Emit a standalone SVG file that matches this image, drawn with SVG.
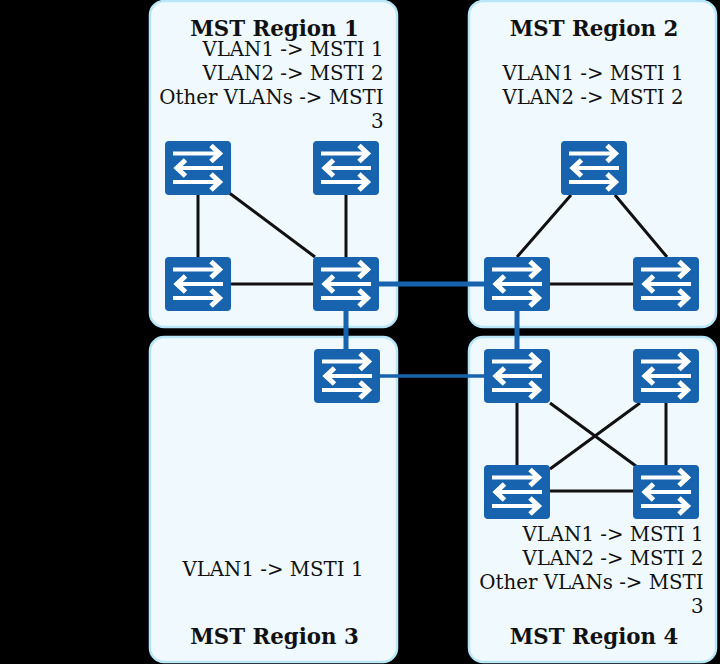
<svg xmlns="http://www.w3.org/2000/svg" width="720" height="664" viewBox="0 0 720 664">
<style>
.region{fill:#f0f9fe;stroke:#b8e5f7;stroke-width:2.500}
.title{font-family:"DejaVu Serif",serif;font-size:21.330px;font-weight:bold;fill:#111;text-anchor:middle}
.map{font-family:"DejaVu Serif",serif;font-size:19.800px;fill:#111;text-anchor:end}
.thin{stroke:#111;stroke-width:3;fill:none}
.thick{stroke:#1763ad;stroke-width:5;fill:none}
.thick2{stroke:#1763ad;stroke-width:3.500;fill:none}
.sw{fill:#1763ad}
.shaft{stroke:#fff;stroke-width:4;fill:none}
.head{stroke:#fff;stroke-width:5;fill:none}
</style>
<defs>
<g id="switch">
<rect class="sw" width="66" height="54" rx="4"/>
<path class="shaft" d="M8 12.500H55M58 27H12M8 41H55"/>
<path class="head" d="M46 4.500L54.500 12.500L46 20.500M20.500 19L12 27L20.500 35M46 33L54.500 41L46 49"/>
</g>
</defs>
<rect width="720" height="664" fill="#000"/>
<g id="regions">
<g id="region1"><rect class="region" x="150" y="1" width="247" height="326" rx="14"/>
<text class="title" x="274.500" y="36">MST Region 1</text>
<text class="map" x="383.500" y="56">VLAN1 -&gt; MSTI 1</text>
<text class="map" x="383.500" y="80">VLAN2 -&gt; MSTI 2</text>
<text class="map" x="383.500" y="104">Other VLANs -&gt; MSTI</text>
<text class="map" x="383.500" y="128">3</text></g>
<g id="region2"><rect class="region" x="469" y="1" width="247" height="326" rx="14"/>
<text class="title" x="594" y="36">MST Region 2</text>
<text class="map" x="683.500" y="80">VLAN1 -&gt; MSTI 1</text>
<text class="map" x="683.500" y="104">VLAN2 -&gt; MSTI 2</text></g>
<g id="region3"><rect class="region" x="150" y="337" width="247" height="325" rx="14"/>
<text class="map" x="363.500" y="576">VLAN1 -&gt; MSTI 1</text>
<text class="title" x="274.500" y="644">MST Region 3</text></g>
<g id="region4"><rect class="region" x="469" y="337" width="247" height="325" rx="14"/>
<text class="map" x="703.500" y="541">VLAN1 -&gt; MSTI 1</text>
<text class="map" x="703.500" y="565">VLAN2 -&gt; MSTI 2</text>
<text class="map" x="703.500" y="589">Other VLANs -&gt; MSTI</text>
<text class="map" x="703.500" y="613">3</text>
<text class="title" x="594" y="644">MST Region 4</text></g>
</g>
<g id="connectors">
<path class="thin" d="M198 195V257M231 284H313M228 192L315 257M346 195V257"/>
<path class="thin" d="M571 195L517 257M615 195L667 257M550 284H633"/>
<path class="thin" d="M517 403V465M550 403L640 469M640 403L550 469M666 403V465M550 491H633"/>
<path class="thick" d="M379 284H484M346 311V349M517 311V349"/>
<path class="thick2" d="M380 376H484"/>
</g>
<g id="nodes">
<use id="sw1" href="#switch" x="165" y="141"/>
<use id="sw2" href="#switch" x="313" y="141"/>
<use id="sw3" href="#switch" x="165" y="257"/>
<use id="sw4" href="#switch" x="313" y="257"/>
<use id="sw5" href="#switch" x="561" y="141"/>
<use id="sw6" href="#switch" x="484" y="257"/>
<use id="sw7" href="#switch" x="633" y="257"/>
<use id="sw8" href="#switch" x="314" y="349"/>
<use id="sw9" href="#switch" x="484" y="349"/>
<use id="sw10" href="#switch" x="633" y="349"/>
<use id="sw11" href="#switch" x="484" y="465"/>
<use id="sw12" href="#switch" x="633" y="465"/>
</g>
</svg>
